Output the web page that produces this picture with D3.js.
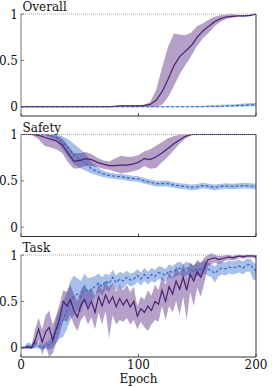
<!DOCTYPE html>
<html>
<head>
<meta charset="utf-8">
<script src="https://cdn.jsdelivr.net/npm/d3@7"></script>
<style>
  body { margin: 0; background: #fff; }
</style>
</head>
<body>
<div id="chart"></div>
<script>
// x grids
var epochsA = [0,5,10,15,20,25,30,35,40,45,50,55,60,65,70,75,80,85,90,95,100,105,110,115,120,125,130,135,140,145,150,155,160,165,170,175,180,185,190,195,200];
var epochsB = [0,3,6,9,12,15,18,21,24,27,30,33,36,39,42,45,48,51,54,57,60,63,66,69,72,75,78,81,84,87,90,93,96,99,102,105,108,111,114,117,120,123,126,129,132,135,138,141,144,147,150,153,156,159,162,165,168,171,174,177,180,183,186,189,192,195,198,200];

// Overall
var overallA = [0,0,0,0,0,0,0,0,0,0,0,0,0,0,0,0,0.005,0.01,0.01,0.01,0.01,0.015,0.025,0.07,0.16,0.29,0.44,0.54,0.6,0.66,0.75,0.82,0.87,0.92,0.95,0.97,0.975,0.98,0.98,0.985,1.0];
var overallALo = [0,0,0,0,0,0,0,0,0,0,0,0,0,0,0,0,0,0.005,0.005,0.005,0.005,0,0,0,0.02,0.1,0.22,0.35,0.45,0.55,0.66,0.74,0.8,0.87,0.92,0.95,0.96,0.97,0.97,0.975,0.99];
var overallAHi = [0.005,0.005,0.005,0.005,0.005,0.005,0.005,0.005,0.005,0.005,0.005,0.005,0.005,0.005,0.005,0.005,0.01,0.015,0.015,0.015,0.015,0.02,0.05,0.18,0.42,0.64,0.79,0.78,0.77,0.8,0.87,0.9,0.94,0.97,0.99,0.995,1.0,0.99,0.99,0.995,1.0];
var overallB = [0,0,0,0,0,0,0,0,0,0,0,0,0,0,0,0,0,0,0,0,0,0,0,0,0,0,0,0,0,0,0,0,0.005,0.005,0.005,0.01,0.01,0.015,0.015,0.02,0.02];
var overallBLo = [-0.005,-0.005,-0.005,-0.005,-0.005,-0.005,-0.005,-0.005,-0.005,-0.005,-0.005,-0.005,-0.005,-0.005,-0.005,-0.005,-0.005,-0.005,-0.005,-0.005,-0.005,-0.005,-0.005,-0.005,-0.005,-0.005,-0.005,-0.005,-0.005,-0.005,-0.005,-0.005,-0.005,-0.005,-0.005,0,0,0,0,0.005,0.005];
var overallBHi = [0.005,0.005,0.005,0.005,0.005,0.005,0.005,0.005,0.005,0.005,0.005,0.005,0.005,0.005,0.005,0.005,0.005,0.005,0.005,0.005,0.005,0.005,0.005,0.005,0.005,0.005,0.005,0.005,0.005,0.005,0.01,0.01,0.015,0.015,0.02,0.025,0.025,0.03,0.035,0.04,0.04];

// Safety
var safetyA = [1,1,1,0.99,0.97,0.95,0.93,0.89,0.8,0.71,0.72,0.74,0.73,0.7,0.68,0.665,0.665,0.67,0.67,0.68,0.7,0.74,0.73,0.76,0.8,0.85,0.9,0.94,0.98,1,1,1,1,1,1,1,1,1,1,1,1];
var safetyALo = [1,1,0.99,0.95,0.88,0.86,0.84,0.8,0.7,0.63,0.64,0.66,0.66,0.65,0.63,0.62,0.6,0.58,0.59,0.6,0.62,0.66,0.63,0.64,0.7,0.76,0.83,0.9,0.96,0.99,1,1,1,1,1,1,1,1,1,1,1];
var safetyAHi = [1,1,1,1,1,1,0.99,0.96,0.88,0.8,0.8,0.81,0.79,0.75,0.72,0.71,0.74,0.77,0.76,0.76,0.78,0.82,0.84,0.88,0.92,0.96,0.98,1,1,1,1,1,1,1,1,1,1,1,1,1,1];
var safetyB = [1,1,1,1,1,0.99,0.97,0.92,0.86,0.78,0.73,0.69,0.63,0.6,0.575,0.56,0.55,0.545,0.535,0.525,0.52,0.5,0.485,0.47,0.47,0.47,0.455,0.445,0.44,0.43,0.435,0.45,0.44,0.43,0.44,0.445,0.44,0.445,0.45,0.445,0.44];
var safetyBLo = [1,1,0.995,0.99,0.99,0.97,0.93,0.85,0.76,0.68,0.64,0.61,0.58,0.56,0.54,0.53,0.52,0.515,0.505,0.495,0.49,0.47,0.455,0.44,0.44,0.44,0.425,0.415,0.41,0.4,0.405,0.42,0.41,0.4,0.41,0.415,0.41,0.415,0.42,0.415,0.41];
var safetyBHi = [1,1,1,1,1,1,1,0.98,0.95,0.9,0.85,0.79,0.7,0.65,0.61,0.59,0.58,0.575,0.565,0.555,0.55,0.53,0.515,0.5,0.5,0.5,0.485,0.475,0.47,0.46,0.465,0.48,0.47,0.46,0.47,0.475,0.47,0.475,0.48,0.475,0.47];

// Task
var taskA = [0,0,0.01,0,0.08,0.2,0.06,0.17,0.22,0.08,
  0.2,0.32,0.5,0.45,0.52,0.4,0.33,0.46,0.52,0.42,
  0.5,0.38,0.55,0.45,0.57,0.48,0.55,0.44,0.53,0.46,
  0.52,0.44,0.5,0.34,0.42,0.38,0.45,0.4,0.5,0.47,
  0.62,0.5,0.66,0.58,0.72,0.63,0.76,0.62,0.79,0.72,
  0.82,0.76,0.86,0.95,0.96,0.97,0.95,0.96,0.97,0.98,
  0.97,0.98,0.99,0.98,0.99,0.99,0.99,0.98];
var taskALo = [0,0,-0.01,-0.01,0,0.08,-0.08,0.02,-0.1,-0.06,
  0.05,0.15,0.3,0.28,0.35,0.25,0.18,0.3,0.35,0.25,
  0.33,0.2,0.38,0.25,0.4,0.1,0.35,0.25,0.3,0.28,
  0.32,0.25,0.3,0.2,0.28,0.22,0.18,0.25,0.3,0.28,
  0.45,0.3,0.45,0.38,0.5,0.35,0.55,0.3,0.6,0.45,
  0.65,0.55,0.7,0.88,0.9,0.92,0.9,0.92,0.94,0.95,
  0.94,0.95,0.97,0.96,0.97,0.97,0.97,0.96];
var taskAHi = [0.01,0.01,0.03,0.02,0.2,0.32,0.2,0.35,0.4,0.25,
  0.35,0.48,0.62,0.6,0.68,0.58,0.5,0.62,0.68,0.6,
  0.65,0.55,0.7,0.62,0.72,0.65,0.7,0.6,0.68,0.62,
  0.68,0.6,0.66,0.45,0.55,0.52,0.62,0.56,0.68,0.62,
  0.78,0.68,0.82,0.75,0.88,0.8,0.9,0.82,0.92,0.88,
  0.95,0.92,0.97,1.0,1.02,1.0,0.99,0.99,1.0,1.0,
  0.99,1.0,1.0,1.0,1.0,1.0,1.0,0.99];
var taskB = [0,0,0.02,0.01,0.05,0.02,0,0.02,0.03,0.06,
  0.18,0.25,0.3,0.4,0.5,0.55,0.58,0.55,0.66,0.6,
  0.63,0.66,0.7,0.66,0.72,0.69,0.76,0.7,0.74,0.72,
  0.76,0.73,0.74,0.78,0.74,0.79,0.75,0.79,0.77,0.81,
  0.8,0.78,0.83,0.81,0.84,0.86,0.83,0.86,0.84,0.82,
  0.85,0.84,0.87,0.85,0.83,0.8,0.84,0.86,0.85,0.87,
  0.86,0.87,0.88,0.86,0.89,0.9,0.85,0.83];
var taskBLo = [-0.01,-0.01,-0.01,-0.01,0,-0.01,-0.02,-0.01,-0.02,0,
  0.05,0.1,0.12,0.2,0.3,0.35,0.4,0.38,0.5,0.45,
  0.5,0.55,0.6,0.56,0.63,0.6,0.68,0.62,0.66,0.64,
  0.69,0.66,0.67,0.71,0.67,0.72,0.68,0.72,0.7,0.74,
  0.73,0.71,0.76,0.74,0.77,0.79,0.76,0.79,0.77,0.75,
  0.78,0.77,0.8,0.78,0.76,0.7,0.77,0.79,0.78,0.8,
  0.79,0.8,0.81,0.79,0.82,0.82,0.72,0.75];
var taskBHi = [0.01,0.02,0.06,0.04,0.1,0.06,0.03,0.06,0.08,0.15,
  0.33,0.42,0.5,0.6,0.72,0.78,0.75,0.72,0.8,0.75,
  0.76,0.77,0.8,0.76,0.8,0.78,0.84,0.78,0.82,0.8,
  0.83,0.8,0.81,0.85,0.81,0.86,0.82,0.86,0.84,0.88,
  0.87,0.85,0.9,0.88,0.91,0.93,0.9,0.93,0.91,0.89,
  0.92,0.91,0.94,0.92,0.9,0.88,0.91,0.93,0.92,0.94,
  0.93,0.94,0.95,0.93,0.96,0.96,0.92,0.9];

var titles = ["Overall", "Safety", "Task"];
var yTicks = [0, 0.5, 1];
var xTicks = [0, 100, 200];

function zip(ep, m, lo, hi) {
  return ep.map(function(e, i) { return {e: e, m: m[i], lo: lo[i], hi: hi[i]}; });
}

var panels = [
  {title: titles[0], a: zip(epochsA, overallA, overallALo, overallAHi), b: zip(epochsA, overallB, overallBLo, overallBHi)},
  {title: titles[1], a: zip(epochsA, safetyA, safetyALo, safetyAHi), b: zip(epochsA, safetyB, safetyBLo, safetyBHi)},
  {title: titles[2], a: zip(epochsB, taskA, taskALo, taskAHi), b: zip(epochsB, taskB, taskBLo, taskBHi)}
];

var W = 272, H = 387;
var left = 21, right = 256;
var panelH = 102, gap = 120.5, top0 = 14;
var font = "DejaVu Serif";
var fs = 12;

var svg = d3.select("#chart").append("svg")
  .attr("width", W).attr("height", H);

var x = d3.scaleLinear().domain([0, 200]).range([left, right]);

var purple = "#4a2070", purpleFill = "#5b2c83";
var blue = "#2f68c8", blueFill = "#3b73d1";

function label(g, px, py, txt, anchor) {
  return g.append("text").attr("x", px).attr("y", py)
    .attr("text-anchor", anchor || "start")
    .style("font-family", font).style("font-size", fs + "px")
    .attr("fill", "#111").text(txt);
}

panels.forEach(function(p, i) {
  var top = top0 + i * gap;
  var y = d3.scaleLinear().domain([-0.1, 1]).range([top + panelH, top]);
  var g = svg.append("g");

  g.append("clipPath").attr("id", "clip" + i)
    .append("rect").attr("x", left).attr("y", top - 2).attr("width", right - left).attr("height", panelH + 2);

  var plot = g.append("g").attr("clip-path", "url(#clip" + i + ")");

  // dotted line at 1
  g.append("line")
    .attr("x1", left).attr("x2", right)
    .attr("y1", y(1)).attr("y2", y(1))
    .attr("stroke", "#999").attr("stroke-width", 0.8)
    .attr("stroke-dasharray", "1,1");

  var area = d3.area()
    .x(function(d) { return x(d.e); })
    .y0(function(d) { return y(d.lo); })
    .y1(function(d) { return y(d.hi); });
  var line = d3.line()
    .x(function(d) { return x(d.e); })
    .y(function(d) { return y(d.m); });

  plot.append("path").datum(p.b).attr("d", area)
    .attr("fill", blueFill).attr("fill-opacity", 0.45);
  plot.append("path").datum(p.a).attr("d", area)
    .attr("fill", purpleFill).attr("fill-opacity", 0.45);
  plot.append("path").datum(p.b).attr("d", line)
    .attr("fill", "none").attr("stroke", blue).attr("stroke-width", 1.2)
    .attr("stroke-dasharray", "3,2");
  plot.append("path").datum(p.a).attr("d", line)
    .attr("fill", "none").attr("stroke", purple).attr("stroke-width", 1.2);

  // frame
  var bottom = top + panelH;
  g.append("line").attr("x1", left).attr("x2", left).attr("y1", y(1)).attr("y2", bottom)
    .attr("stroke", "#777").attr("stroke-width", 1);
  g.append("line").attr("x1", right).attr("x2", right).attr("y1", y(1)).attr("y2", bottom)
    .attr("stroke", "#333").attr("stroke-width", 1);
  g.append("line").attr("x1", left).attr("x2", right).attr("y1", bottom).attr("y2", bottom)
    .attr("stroke", "#333").attr("stroke-width", 1);

  // y ticks
  yTicks.forEach(function(t) {
    g.append("line").attr("x1", left).attr("x2", left + 3).attr("y1", y(t)).attr("y2", y(t))
      .attr("stroke", "#555").attr("stroke-width", 0.8);
    label(g, 18, y(t), t, "end").attr("dy", "0.38em");
  });
  // x ticks
  xTicks.forEach(function(t) {
    g.append("line").attr("x1", x(t)).attr("x2", x(t)).attr("y1", bottom).attr("y2", bottom - 3)
      .attr("stroke", "#333").attr("stroke-width", 0.8);
  });

  label(g, 22.5, y(1) - 3, p.title);

  if (i === panels.length - 1) {
    xTicks.forEach(function(t) {
      label(g, x(t), 369, t, "middle");
    });
    label(g, x(100), 383, "Epoch", "middle");
  }
});
</script>
</body>
</html>
